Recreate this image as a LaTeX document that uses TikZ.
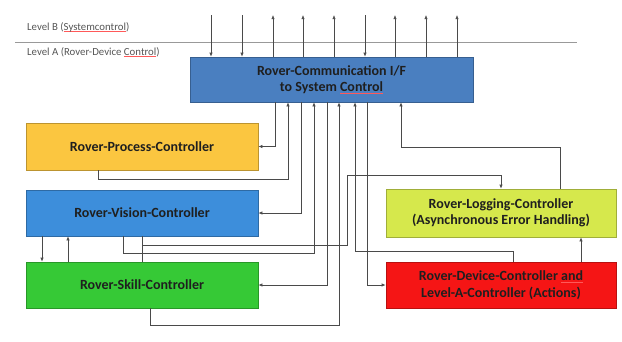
\documentclass[tikz,border=0pt]{standalone}
\usepackage{fontspec}
\setmainfont{Carlito}
\usetikzlibrary{arrows.meta}
\definecolor{commblue}{HTML}{4A7FC0}
\definecolor{procyellow}{HTML}{FBC640}
\definecolor{visionblue}{HTML}{3D8EDB}
\definecolor{skillgreen}{HTML}{36C936}
\definecolor{loglime}{HTML}{D6E84C}
\definecolor{devred}{HTML}{F51515}
\definecolor{wire}{HTML}{4A4A4A}
\definecolor{labelgray}{HTML}{555555}
% red spell-check underline under a word
\newcommand{\squig}[1]{\setbox0\hbox{#1}\rlap{\color{red!65}\rule[-1.8pt]{\wd0}{0.45pt}}\box0}
\tikzset{
  box/.style={draw=#1!75!black, fill=#1, line width=0.6pt, inner sep=0pt,
    font=\bfseries\fontsize{14}{16.5}\selectfont, text=black!88, align=center},
  wireline/.style={draw=wire, line width=0.6pt},
  arr/.style={wireline, -{Latex[length=4pt,width=3.2pt]}},
  levellabel/.style={anchor=west, inner sep=0pt, text=labelgray,
    font=\fontsize{10.8}{12}\selectfont}
}
\begin{document}
\begin{tikzpicture}[x=1pt, y=-1pt]
\useasboundingbox (0,0) rectangle (622,341);

% level separator and labels
\draw[draw=gray!80, line width=0.7pt] (15,42) -- (577,42);
\node[levellabel] (lvlB) at (27,27) {Level B (\squig{Systemcontrol})};
\node[levellabel] (lvlA) at (27,52) {Level A (Rover-Device \squig{Control})};

% controller boxes
\node[box=commblue, minimum width=283pt, minimum height=45pt] (comm) at (331.5,79.5)
  {Rover-Communication I/F\\to System \squig{Control}};
\node[box=procyellow, minimum width=232pt, minimum height=47pt] (process) at (142,146.5)
  {Rover-Process-Controller};
\node[box=visionblue, minimum width=232pt, minimum height=46pt] (vision) at (142,213)
  {Rover-Vision-Controller};
\node[box=skillgreen, minimum width=232pt, minimum height=46pt] (skill) at (142,285)
  {Rover-Skill-Controller};
\node[box=loglime, minimum width=230pt, minimum height=48pt] (logging) at (501,213)
  {Rover-Logging-Controller\\(Asynchronous Error Handling)};
\node[box=devred, minimum width=230pt, minimum height=46pt] (device) at (501,285)
  {Rover-Device-Controller \squig{and}\\Level-A-Controller (Actions)};

% links to level B
\foreach \x in {211,242,365} {
  \coordinate (top\x) at (\x,15);
  \draw[arr] (top\x) -- (comm.north -| \x,0);
}
\foreach \x in {273,303,334,395,426,457} {
  \coordinate (top\x) at (\x,15);
  \draw[arr] (comm.north -| \x,0) -- (top\x);
}

% communication interface <-> controllers
\draw[arr] (comm.south -| 275,0) |- (process.east);
\draw[arr] (process.south -| 98,0) -- (98,179) -| (comm.south -| 288,0);
\draw[arr] (comm.south -| 301,0) |- (vision.east);
\draw[arr] (vision.south -| 123,0) -- (123,253) -| (comm.south -| 314,0);
\draw[arr] (comm.south -| 327,0) |- (skill.east);
\draw[arr] (skill.south -| 150,0) -- (150,325) -| (comm.south -| 339,0);
\draw[arr] (device.north -| 513,0) -- (513,251) -| (comm.south -| 355,0);
\draw[arr] (comm.south -| 367,0) |- (device.west);
\draw[arr] (logging.north -| 560,0) -- (560,147) -| (comm.south -| 401,0);

% vision / skill -> logging
\coordinate (join) at (142,245);
\draw[wireline] (vision.south -| 142,0) -- (skill.north -| 142,0);
\draw[arr] (join) -| (347,175) -| (logging.north -| 501,0);

% vision <-> skill
\draw[arr] (vision.south -| 42,0) -- (skill.north -| 42,0);
\draw[arr] (skill.north -| 68,0) -- (vision.south -| 68,0);

% device -> logging
\draw[arr] (device.north -| 581,0) -- (logging.south -| 581,0);
\end{tikzpicture}
\end{document}
